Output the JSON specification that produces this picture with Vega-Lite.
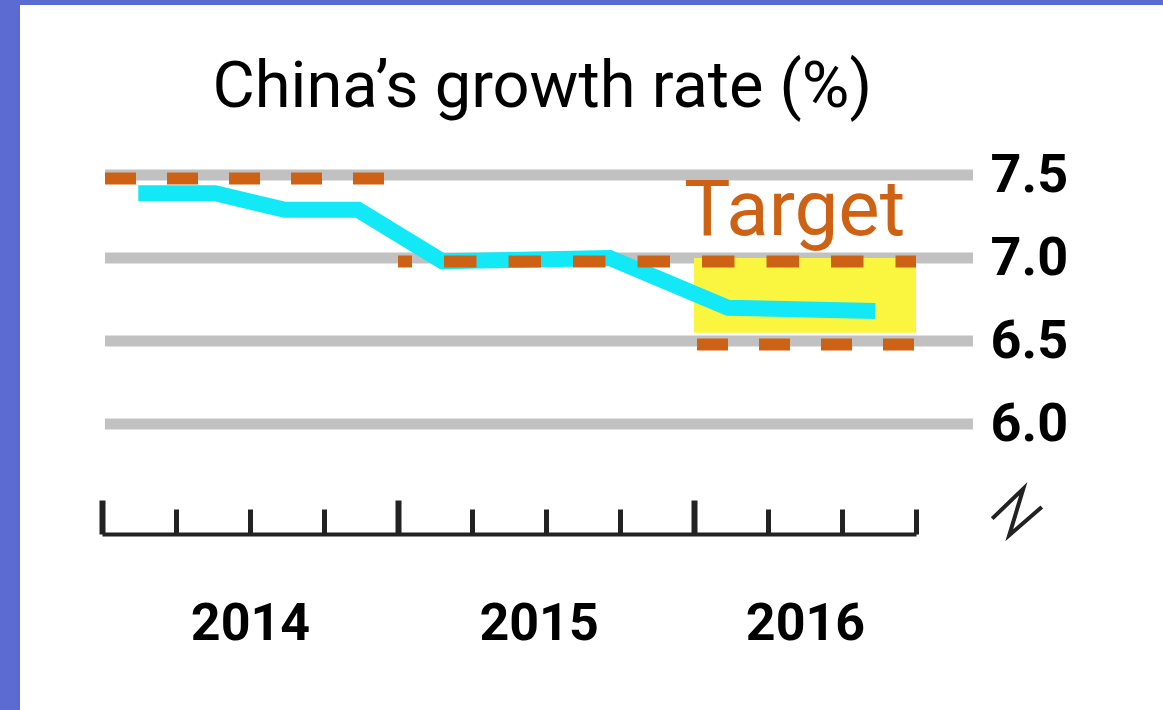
{
  "$schema": "https://vega.github.io/schema/vega-lite/v6.json",
  "width": 1163,
  "height": 710,
  "autosize": {"type": "fit", "contains": "padding"},
  "padding": {"left": 20, "top": 5, "right": 0, "bottom": 0},
  "background": "#5c6bd2",
  "view": {"fill": "#ffffff", "stroke": null},
  "datasets": {
    "grid": [{"v": 6.0}, {"v": 6.5}, {"v": 7.0}, {"v": 7.5}],
    "growth": [
      {"q": 0.49, "v": 7.39},
      {"q": 1.53, "v": 7.39},
      {"q": 2.47, "v": 7.29},
      {"q": 3.46, "v": 7.29},
      {"q": 4.6, "v": 6.98},
      {"q": 6.86, "v": 7.0},
      {"q": 8.46, "v": 6.7},
      {"q": 10.45, "v": 6.68}
    ],
    "targets": [
      {"year": "2014", "bound": "point", "q": 0, "q2": 4, "v": 7.5},
      {"year": "2015", "bound": "point", "q": 4, "q2": 8, "v": 7.0},
      {"year": "2016", "bound": "high", "q": 8, "q2": 11, "v": 7.0},
      {"year": "2016", "bound": "low", "q": 8, "q2": 11, "v": 6.5}
    ],
    "band": [{"year": "2016", "q": 8, "q2": 11, "v": 7.0, "v2": 6.55}],
    "titles": [{"label": "China’s growth rate (%)", "q": 5.95, "v": 7.91}],
    "notes": [{"label": "Target", "q": 9.36, "v": 7.14}],
    "axisbreak": [
      {"i": 0, "q": 12.03, "v": 5.43},
      {"i": 1, "q": 12.45, "v": 5.61},
      {"i": 2, "q": 12.26, "v": 5.33},
      {"i": 3, "q": 12.7, "v": 5.5}
    ]
  },
  "layer": [
    {
      "data": {"name": "grid"},
      "mark": {"type": "rule", "color": "#c1c1c1", "strokeWidth": 11, "strokeCap": "butt"},
      "encoding": {
        "x": {"datum": 0.04, "type": "quantitative", "title": null},
        "x2": {"datum": 11.77},
        "y": {"field": "v", "type": "quantitative", "title": null}
      }
    },
    {
      "data": {"name": "band"},
      "mark": {"type": "rect", "color": "#faf53f"},
      "encoding": {
        "x": {"field": "q", "type": "quantitative", "title": null},
        "x2": {"field": "q2"},
        "y": {"field": "v", "type": "quantitative", "title": null},
        "y2": {"field": "v2"}
      }
    },
    {
      "data": {"name": "growth"},
      "mark": {"type": "line", "color": "#13e8f6", "strokeWidth": 16, "strokeCap": "butt", "strokeJoin": "miter"},
      "encoding": {
        "x": {
          "field": "q", "type": "quantitative", "title": null,
          "scale": {"domain": [0, 11], "range": [82, 896], "nice": false, "zero": false},
          "axis": {
            "orient": "bottom",
            "offset": -176,
            "grid": false,
            "domain": true,
            "domainColor": "#222222",
            "domainWidth": 4,
            "ticks": true,
            "tickColor": "#222222",
            "values": [0, 1, 2, 3, 4, 5, 5.9, 6, 7, 8, 9, 9.5, 10, 11],
            "tickSize": {"condition": {"test": "datum.value === 0 || datum.value === 4 || datum.value === 8", "value": -34}, "value": -25},
            "tickWidth": {"condition": {"test": "datum.value === 0 || datum.value === 4 || datum.value === 8", "value": 6}, "value": 5},
            "tickOpacity": {"condition": {"test": "datum.value === 5.9 || datum.value === 9.5", "value": 0}, "value": 1},
            "labelExpr": "datum.value === 2 ? '2014' : datum.value === 5.9 ? '2015' : datum.value === 9.5 ? '2016' : ''",
            "labelFont": "Roboto",
            "labelFontSize": 52,
            "labelFontWeight": "bold",
            "labelColor": "#000000",
            "labelPadding": 89,
            "labelOverlap": false,
            "labelFlush": false,
            "labelBound": false
          }
        },
        "y": {
          "field": "v", "type": "quantitative", "title": null,
          "scale": {"domain": [6, 7.5], "range": [419, 170], "nice": false, "zero": false},
          "axis": {
            "orient": "right",
            "offset": -175,
            "grid": false,
            "domain": false,
            "ticks": false,
            "tickSize": 0,
            "values": [6, 6.5, 7, 7.5],
            "format": ".1f",
            "labelFont": "Roboto",
            "labelFontSize": 54,
            "labelFontWeight": "bold",
            "labelColor": "#000000",
            "labelPadding": 2,
            "labelAlign": "left",
            "labelBaseline": "middle",
            "labelOverlap": false,
            "labelFlush": false,
            "labelBound": false
          }
        }
      }
    },
    {
      "data": {"name": "targets"},
      "transform": [{"filter": "datum.v !== 7"}],
      "mark": {"type": "rule", "color": "#cd6214", "strokeWidth": 12, "strokeCap": "butt", "strokeDash": [31, 31], "strokeDashOffset": -3, "yOffset": 3.5},
      "encoding": {
        "x": {"field": "q", "type": "quantitative", "title": null},
        "x2": {"field": "q2"},
        "y": {"field": "v", "type": "quantitative", "title": null}
      }
    },
    {
      "data": {"name": "targets"},
      "transform": [{"filter": "datum.year === '2015'"}],
      "mark": {"type": "rule", "color": "#cd6214", "strokeWidth": 12, "strokeCap": "butt", "strokeDash": [32.5, 32], "strokeDashOffset": 18.5, "yOffset": 3.5},
      "encoding": {
        "x": {"field": "q", "type": "quantitative", "title": null},
        "x2": {"field": "q2"},
        "y": {"field": "v", "type": "quantitative", "title": null}
      }
    },
    {
      "data": {"name": "targets"},
      "transform": [{"filter": "datum.year === '2016' && datum.bound === 'high'"}],
      "mark": {"type": "rule", "color": "#cd6214", "strokeWidth": 12, "strokeCap": "butt", "strokeDash": [32.5, 32], "strokeDashOffset": 56.5, "yOffset": 3.5},
      "encoding": {
        "x": {"field": "q", "type": "quantitative", "title": null},
        "x2": {"field": "q2"},
        "y": {"field": "v", "type": "quantitative", "title": null}
      }
    },
    {
      "data": {"name": "notes"},
      "mark": {"type": "text", "color": "#cd6214", "font": "Roboto", "fontSize": 78, "fontWeight": "normal", "align": "center", "baseline": "alphabetic"},
      "encoding": {
        "x": {"field": "q", "type": "quantitative", "title": null},
        "y": {"field": "v", "type": "quantitative", "title": null},
        "text": {"field": "label"}
      }
    },
    {
      "data": {"name": "titles"},
      "mark": {"type": "text", "color": "#000000", "font": "Roboto", "fontSize": 65, "fontWeight": "normal", "align": "center", "baseline": "alphabetic"},
      "encoding": {
        "x": {"field": "q", "type": "quantitative", "title": null},
        "y": {"field": "v", "type": "quantitative", "title": null},
        "text": {"field": "label"}
      }
    },
    {
      "data": {"name": "axisbreak"},
      "mark": {"type": "line", "color": "#222222", "strokeWidth": 4, "strokeJoin": "miter", "strokeCap": "butt"},
      "encoding": {
        "x": {"field": "q", "type": "quantitative", "title": null},
        "y": {"field": "v", "type": "quantitative", "title": null},
        "order": {"field": "i"}
      }
    }
  ]
}
